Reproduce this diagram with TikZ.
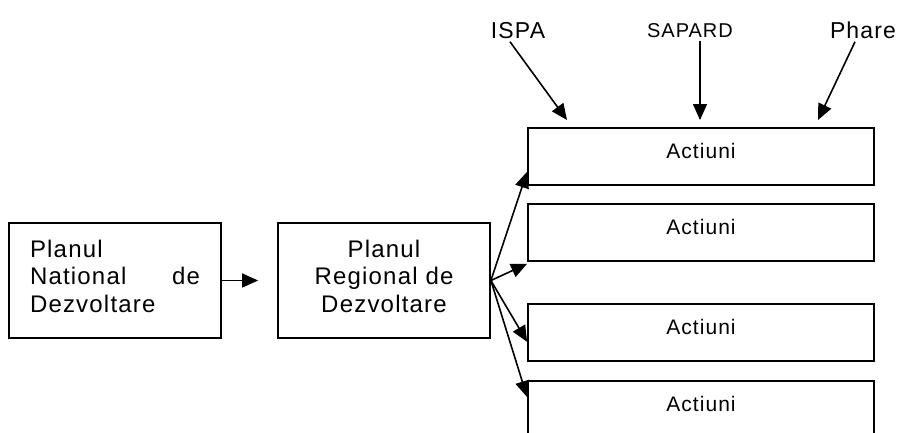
\documentclass[tikz,border=0pt]{standalone}
\usepackage{fontspec}
\setmainfont{Liberation Sans}
\newfontfamily\boxfont[LetterSpace=5]{Liberation Sans}
\usetikzlibrary{arrows.meta,calc}
\tikzset{
  plan/.style={draw,line width=1.8pt,minimum width=212pt,minimum height=115pt,
    font=\boxfont\fontsize{24}{27.5}\selectfont},
  actbox/.style={draw,line width=1.8pt,minimum width=346pt,inner ysep=0pt,
    text height=31pt,text depth=26pt,anchor=north,
    font=\boxfont\fontsize{21}{25}\selectfont},
  fund/.style={anchor=base,font=\boxfont\fontsize{23}{27}\selectfont},
  arr/.style={line width=1.6pt,-{Triangle[length=16pt,width=14pt]}}
}
\begin{document}
\begin{tikzpicture}[x=1pt,y=-1pt]
\clip (0,0) rectangle (900,432);
% planuri
\node[plan,align=left,text width=170pt,inner xsep=21pt] (N) at (115,280.5)
  {Planul\\National\hskip0pt plus1fill de\\Dezvoltare\rule[-9pt]{0pt}{9pt}};
\node[plan,align=center] (R) at (384,280.5)
  {Planul\\Regional de\\Dezvoltare\rule[-9pt]{0pt}{9pt}};
\draw[arr,shorten >=19pt] (N.east) -- (R.west);

% actiuni
\node[actbox] (A1) at (701,127) {Actiuni};
\node[actbox] (A2) at (701,203) {Actiuni};
\node[actbox] (A3) at (701,303) {Actiuni};
\node[actbox] (A4) at (701,380) {Actiuni};
\draw[arr] (R.east) -- ($(A1.south west)+(0,-14)$);
\draw[arr] (R.east) -- ($(A2.south west)+(0,2)$);
\draw[arr] (R.east) -- ($(A3.south west)+(0,-20)$);
\draw[arr] (R.east) -- ($(A4.north west)+(0,17)$);

% fonduri
\node[fund] (ISPA) at (518,38) {ISPA};
\node[fund,font=\boxfont\fontsize{20}{24}\selectfont] (SAPARD) at (690,37) {SAPARD};
\node[fund] (Phare) at (863,38) {Phare};
\coordinate (ispa in) at (567,120);
\coordinate (sapard in) at (700,120);
\coordinate (phare in) at (818,120);
\draw[arr] ($(ISPA.south)+(-8,0)$) -- (ispa in);
\draw[arr] ($(SAPARD.south)+(10,0)$) -- (sapard in);
\draw[arr] ($(Phare.south)+(-8,0)$) -- (phare in);
\end{tikzpicture}
\end{document}
